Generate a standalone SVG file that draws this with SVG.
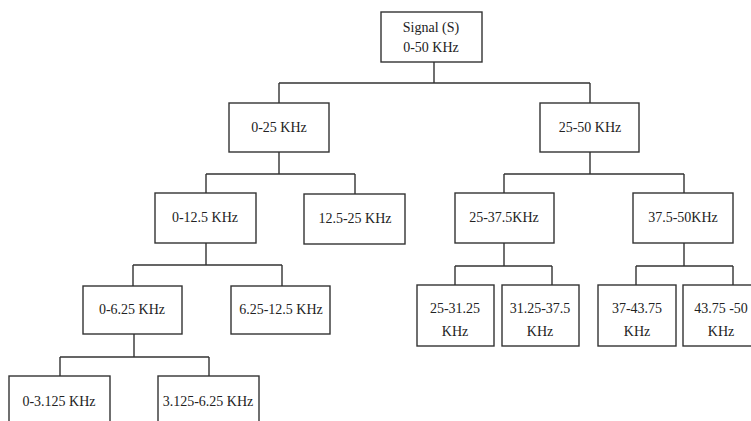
<svg xmlns="http://www.w3.org/2000/svg" width="751" height="421" viewBox="0 0 751 421">
<style>
.box{fill:#fff;stroke:#333;stroke-width:1.4}
.ln{fill:none;stroke:#333;stroke-width:1.4}
text{font-family:"Liberation Serif","Times New Roman",serif;font-size:14px;fill:#222;text-anchor:middle}
</style>
<rect width="751" height="421" fill="#fff"/>
<g id="connectors">
<path class="ln" d="M434 62V83M279 83H590M279 83V103M590 83V103"/>
<path class="ln" d="M279 152V174M206 174H355M206 174V193M355 174V194"/>
<path class="ln" d="M590 152V174M504 174H684M504 174V193M684 174V193"/>
<path class="ln" d="M206 243V265M133 265H282M133 265V286M282 265V286"/>
<path class="ln" d="M504 243V266M455 266H552M455 266V285M552 266V285"/>
<path class="ln" d="M684 243V266M636 266H733M636 266V285M733 266V285"/>
<path class="ln" d="M134 334V357M60 357H209M60 357V376M209 357V376"/>
</g>
<g id="root"><rect class="box" x="381" y="12" width="101" height="50"/><text x="431" y="32">Signal (S)</text><text x="431" y="52">0-50 KHz</text></g>
<g id="n0-25"><rect class="box" x="229" y="103" width="100" height="49"/><text x="279" y="132">0-25 KHz</text></g>
<g id="n25-50"><rect class="box" x="540" y="103" width="99" height="49"/><text x="590" y="132">25-50 KHz</text></g>
<g id="n0-12.5"><rect class="box" x="155" y="193" width="101" height="50"/><text x="205" y="222">0-12.5 KHz</text></g>
<g id="n12.5-25"><rect class="box" x="304" y="194" width="101" height="50"/><text x="355" y="223">12.5-25 KHz</text></g>
<g id="n25-37.5"><rect class="box" x="455" y="193" width="99" height="50"/><text x="504" y="222">25-37.5KHz</text></g>
<g id="n37.5-50"><rect class="box" x="633" y="193" width="100" height="50"/><text x="683" y="222">37.5-50KHz</text></g>
<g id="n0-6.25"><rect class="box" x="83" y="286" width="99" height="48"/><text x="132" y="314">0-6.25 KHz</text></g>
<g id="n6.25-12.5"><rect class="box" x="231" y="286" width="99" height="48"/><text x="281" y="314">6.25-12.5 KHz</text></g>
<g id="n25-31.25"><rect class="box" x="417" y="285" width="77" height="61"/><text x="455" y="313">25-31.25</text><text x="455" y="336">KHz</text></g>
<g id="n31.25-37.5"><rect class="box" x="502" y="285" width="77" height="61"/><text x="540" y="313">31.25-37.5</text><text x="540" y="336">KHz</text></g>
<g id="n37-43.75"><rect class="box" x="598" y="285" width="78" height="61"/><text x="637" y="313">37-43.75</text><text x="637" y="336">KHz</text></g>
<g id="n43.75-50"><rect class="box" x="683" y="285" width="78" height="61"/><text x="721" y="313">43.75 -50</text><text x="721" y="336">KHz</text></g>
<g id="n0-3.125"><rect class="box" x="9" y="376" width="101" height="60"/><text x="59" y="406">0-3.125 KHz</text></g>
<g id="n3.125-6.25"><rect class="box" x="158" y="376" width="101" height="60"/><text x="208" y="406">3.125-6.25 KHz</text></g>
</svg>
